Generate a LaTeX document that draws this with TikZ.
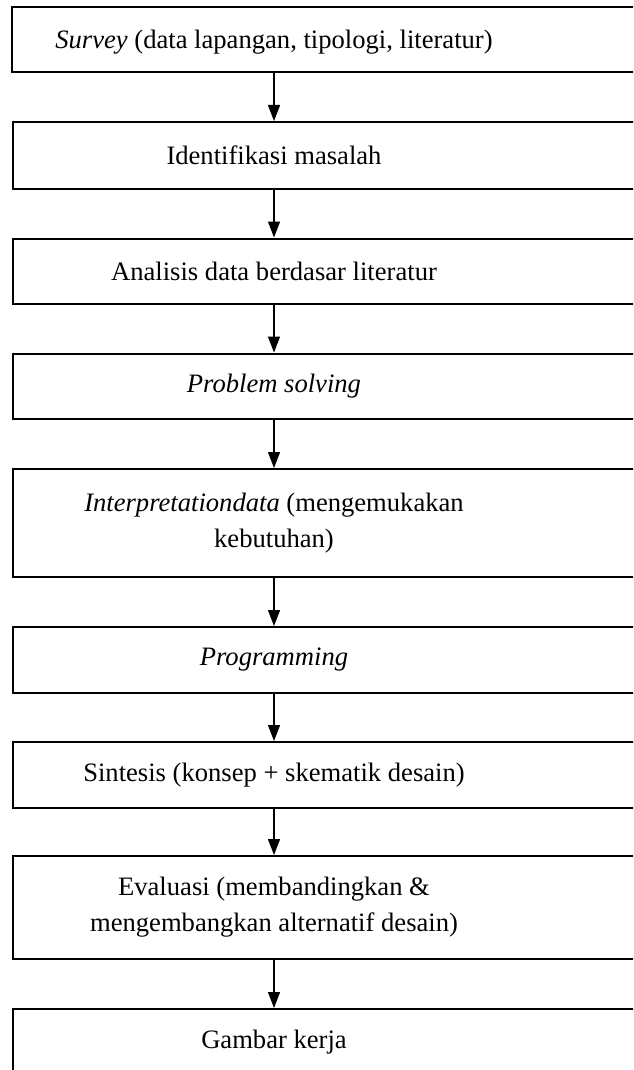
\documentclass[tikz,border=0pt]{standalone}
\usepackage{fontspec}
\setmainfont{Liberation Serif}
\usetikzlibrary{arrows.meta}

\begin{document}
\begin{tikzpicture}[x=0.5pt, y=-0.5pt,
  stepbox/.style={shape=rectangle, draw=black, line width=1pt, minimum width=344pt},
  steptext/.style={align=center, font=\fontsize{13.3}{18}\selectfont, inner sep=0pt},
  flow/.style={-{Triangle[length=8pt, width=6pt]}, line width=0.65pt}]
\useasboundingbox (0,0) rectangle (633,1070);
\clip (0,0) rectangle (633,1070);
\node[stepbox, minimum height=32.5pt] (b1) at (356, 39.5) {};
\node[stepbox, minimum height=33.25pt] (b2) at (357, 155.25) {};
\node[stepbox, minimum height=32.75pt] (b3) at (357, 271.25) {};
\node[stepbox, minimum height=32.5pt] (b4) at (357, 386) {};
\node[stepbox, minimum height=54pt] (b5) at (357, 523) {};
\node[stepbox, minimum height=32.75pt] (b6) at (357, 659.75) {};
\node[stepbox, minimum height=32.75pt] (b7) at (357, 774.75) {};
\node[stepbox, minimum height=51.5pt] (b8) at (357, 907.5) {};
\node[stepbox, minimum height=32.75pt] (b9) at (357, 1041.75) {};
\node[steptext] (s1) at (274, 42) {\textit{Survey} (data lapangan, tipologi, literatur)};
\node[steptext] (s2) at (274, 155.25) {Identifikasi masalah};
\node[steptext] (s3) at (274, 271.25) {Analisis data berdasar literatur};
\node[steptext] (s4) at (274, 386) {\textit{Problem solving}};
\node[steptext] (s5) at (274, 523) {\textit{Interpretationdata} (mengemukakan\\kebutuhan)};
\node[steptext] (s6) at (274, 659.75) {\textit{Programming}};
\node[steptext] (s7) at (274, 774.75) {Sintesis (konsep + skematik desain)};
\node[steptext] (s8) at (274, 907.5) {Evaluasi (membandingkan \&\\mengembangkan alternatif desain)};
\node[steptext] (s9) at (274, 1041.75) {Gambar kerja};
\draw[flow] (s1 |- b1.south) -- (s2 |- b2.north);
\draw[flow] (s2 |- b2.south) -- (s3 |- b3.north);
\draw[flow] (s3 |- b3.south) -- (s4 |- b4.north);
\draw[flow] (s4 |- b4.south) -- (s5 |- b5.north);
\draw[flow] (s5 |- b5.south) -- (s6 |- b6.north);
\draw[flow] (s6 |- b6.south) -- (s7 |- b7.north);
\draw[flow] (s7 |- b7.south) -- (s8 |- b8.north);
\draw[flow] (s8 |- b8.south) -- (s9 |- b9.north);
\end{tikzpicture}
\end{document}
